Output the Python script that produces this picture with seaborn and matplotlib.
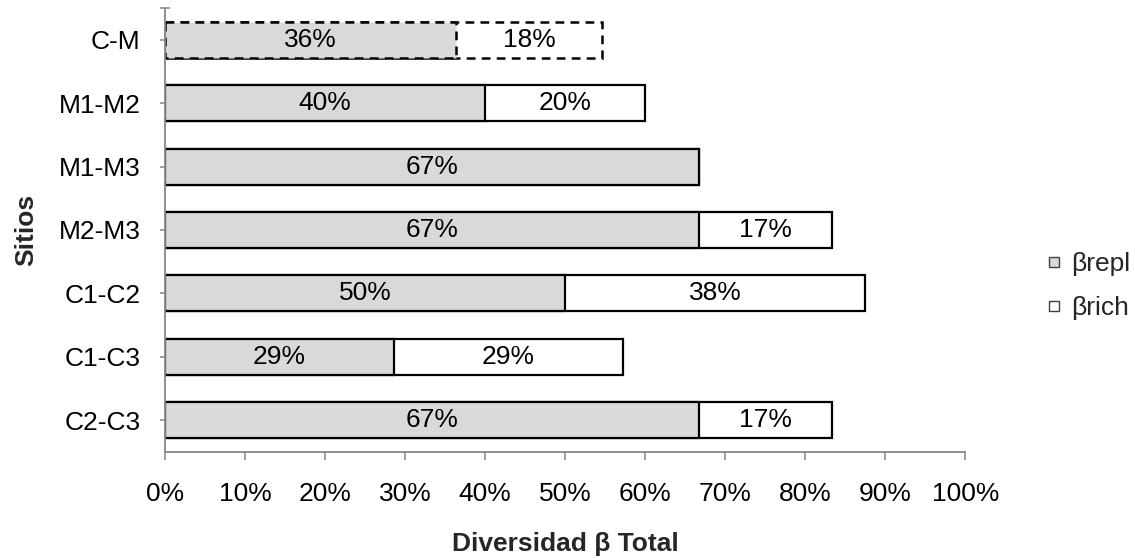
import matplotlib
matplotlib.use("Agg")
import matplotlib.pyplot as plt
from matplotlib.lines import Line2D
from matplotlib.ticker import FixedLocator, PercentFormatter
import seaborn as sns
import pandas as pd

# Site pairs, top to bottom
sitios = ["C-M", "M1-M2", "M1-M3", "M2-M3", "C1-C2", "C1-C3", "C2-C3"]
# Replacement and richness-difference components (% of total beta diversity)
beta_repl = [36.4, 40.0, 66.7, 66.7, 50.0, 28.6, 66.7]
beta_rich = [18.2, 20.0, 0.0, 16.7, 37.5, 28.6, 16.7]
x_ticks = [0, 10, 20, 30, 40, 50, 60, 70, 80, 90, 100]

df = pd.DataFrame({"sitio": sitios, "repl": beta_repl, "rich": beta_rich})
df["total"] = df["repl"] + df["rich"]

sns.set_theme(style="white")
plt.rcParams["font.family"] = ["Liberation Sans", "DejaVu Sans"]

FS = 19
GRAY_FILL = "#d9d9d9"
AXIS_GRAY = "#868686"
BAR_H = 0.567

fig = plt.figure(figsize=(11.35, 5.58), dpi=100)
ax = fig.add_axes([0.1454, 0.19, 0.705, 0.7957])

# Whole bar (white, richness part shows through), then the replacement part on top
sns.barplot(data=df, x="total", y="sitio", orient="h", color="white",
            edgecolor="black", linewidth=1.6, width=BAR_H, saturation=1,
            ax=ax, errorbar=None)
n = len(df)
sns.barplot(data=df, x="repl", y="sitio", orient="h", color=GRAY_FILL,
            edgecolor="black", linewidth=1.6, width=BAR_H, saturation=1,
            ax=ax, errorbar=None)

total_patches = ax.patches[:n]
repl_patches = ax.patches[n:]
# Dashed outline for the combined C-M comparison
for p in (total_patches[0], repl_patches[0]):
    p.set_linestyle((0, (3.5, 2.5)))
    p.set_linewidth(1.8)

# Value labels centred in each segment
for i, (r, c) in enumerate(zip(beta_repl, beta_rich)):
    if r > 0:
        ax.text(r / 2, i, f"{r:.0f}%", ha="center", va="center",
                fontsize=FS, color="black")
    if c > 0:
        ax.text(r + c / 2, i, f"{c:.0f}%", ha="center", va="center",
                fontsize=FS, color="black")

ax.set_xlim(0, 100)
ax.set_ylim(n - 0.5, -0.5)
ax.xaxis.set_major_locator(FixedLocator(x_ticks))
ax.xaxis.set_major_formatter(PercentFormatter(decimals=0))

for side in ("top", "right"):
    ax.spines[side].set_visible(False)
for side in ("left", "bottom"):
    ax.spines[side].set_color(AXIS_GRAY)
    ax.spines[side].set_linewidth(1.3)

ax.tick_params(axis="x", which="major", direction="out", length=5.5, width=1.1,
               color=AXIS_GRAY, labelsize=FS, pad=16, labelcolor="black",
               bottom=True)
ax.tick_params(axis="y", which="both", direction="inout", length=7, width=1.1,
               color=AXIS_GRAY, labelsize=FS, pad=14, labelcolor="black",
               left=True)
ax.yaxis.set_minor_locator(FixedLocator([-0.5]))

ax.set_xlabel("Diversidad β Total", fontsize=FS, fontweight="bold")
ax.set_ylabel("Sitios", fontsize=FS, fontweight="bold")
ax.xaxis.set_label_coords(0.5, -0.207)
ax.xaxis.label.set_va("center")
ax.yaxis.set_label_coords(-0.1735, 0.5)
ax.yaxis.label.set_va("center")

handles = [
    Line2D([], [], linestyle="none", marker="s", markersize=7.5,
           markerfacecolor=GRAY_FILL, markeredgecolor="#404040",
           markeredgewidth=1.0),
    Line2D([], [], linestyle="none", marker="s", markersize=7.5,
           markerfacecolor="white", markeredgecolor="#404040",
           markeredgewidth=1.0),
]
fig.legend(handles, ["βrepl", "βrich"], loc="center left",
           bbox_to_anchor=(0.922, 0.487), frameon=False, fontsize=FS,
           handlelength=0.6, handletextpad=0.35, labelspacing=0.75,
           borderpad=0, borderaxespad=0)

fig.savefig("out.png", dpi=100)
